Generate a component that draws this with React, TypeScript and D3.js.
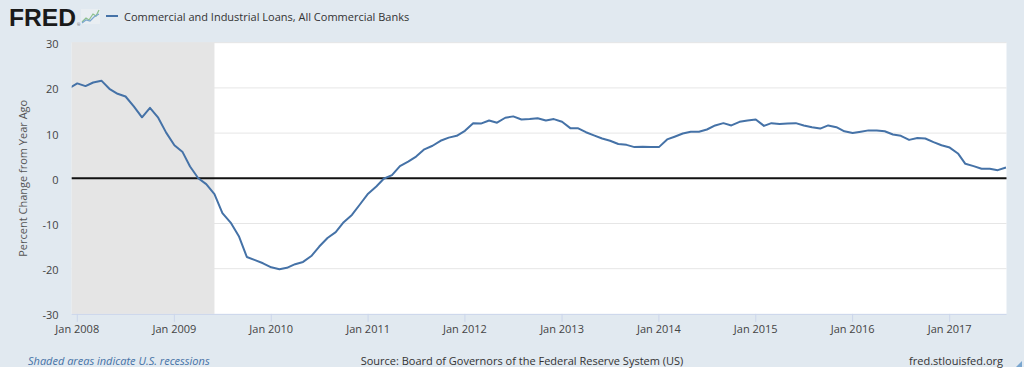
import React from "react";
import * as d3 from "d3";

// monthly series, Dec 2007 .. Aug 2017 (percent change from year ago)
const startMonth = Date.UTC(2007, 11, 1);
const values = [
  19.9,
  21.0, 20.4, 21.2, 21.6, 19.8, 18.7, 18.1, 15.9, 13.5, 15.6, 13.4, 10.1,
  7.3, 5.8, 2.6, 0.0, -1.3, -3.5, -7.7, -9.8, -12.8, -17.4, -18.1, -18.8,
  -19.7, -20.1, -19.8, -19.0, -18.5, -17.2, -15.1, -13.2, -11.9, -9.7, -8.1, -5.8,
  -3.4, -1.8, -0.1, 0.7, 2.7, 3.7, 4.8, 6.4, 7.2, 8.3, 9.0, 9.4,
  10.5, 12.2, 12.1, 12.8, 12.3, 13.4, 13.7, 13.0, 13.1, 13.3, 12.8, 13.1,
  12.5, 11.1, 11.1, 10.2, 9.5, 8.8, 8.3, 7.6, 7.4, 6.9, 7.0, 6.9,
  6.9, 8.6, 9.2, 9.9, 10.3, 10.3, 10.8, 11.7, 12.2, 11.7, 12.5, 12.8,
  13.0, 11.6, 12.2, 12.0, 12.1, 12.2, 11.7, 11.3, 11.0, 11.7, 11.3, 10.4,
  10.0, 10.3, 10.6, 10.6, 10.4, 9.7, 9.4, 8.5, 8.9, 8.8, 8.0, 7.3,
  6.8, 5.5, 3.2, 2.7, 2.1, 2.1, 1.8, 2.4,
];
const yTicks = [30, 20, 10, 0, -10, -20, -30];
const recessions = [[Date.UTC(2007, 11, 1), Date.UTC(2009, 5, 1)]];
const seriesName = "Commercial and Industrial Loans, All Commercial Banks";
const yTitle = "Percent Change from Year Ago";

const left = 71.7;
const right = 1006.5;
const top = 42.7;
const bottom = 313.9;

export default function App() {
  const data = values.map((v, i) => ({
    date: d3.utcMonth.offset(new Date(startMonth), i),
    value: v,
  }));

  const x = d3
    .scaleUtc()
    .domain([new Date(Date.UTC(2007, 11, 11)), new Date(Date.UTC(2017, 7, 3))])
    .range([left, right]);
  const y = d3.scaleLinear().domain([-30, 30]).range([bottom, top]);

  const xTicks = d3.utcYear.range(new Date(Date.UTC(2008, 0, 1)), new Date(Date.UTC(2017, 1, 1)));
  const fmt = d3.utcFormat("%b %Y");

  const line = d3
    .line<{ date: Date; value: number }>()
    .x((d) => x(d.date))
    .y((d) => y(d.value));

  const font = "'Open Sans', 'DejaVu Sans', sans-serif";

  return (
    <svg
      width={1024}
      height={371}
      style={{ position: "absolute", left: 0, top: 0 }}
      fontFamily={font}
    >
      <defs>
        <clipPath id="plot">
          <rect x={left} y={top} width={right - left} height={bottom - top} />
        </clipPath>
      </defs>
      <rect x={0} y={0} width={1024} height={371} fill="#ffffff" />
      <rect x={0} y={0} width={1024} height={367} fill="#e1e9f0" />
      <rect x={left} y={top} width={right - left} height={bottom - top} fill="#ffffff" />

      {/* grid */}
      {yTicks
        .filter((t) => t !== 0 && t !== -30)
        .map((t) => (
          <line key={t} x1={left} x2={right} y1={y(t)} y2={y(t)} stroke="#e6e6e6" strokeWidth={1} />
        ))}

      {/* recession bands */}
      <g clipPath="url(#plot)">
        {recessions.map(([a, b], i) => (
          <rect
            key={i}
            x={x(new Date(a))}
            y={top}
            width={x(new Date(b)) - x(new Date(a))}
            height={bottom - top}
            fill="#e5e5e5"
          />
        ))}
      </g>

      {/* zero line */}
      <line x1={left} x2={right} y1={y(0)} y2={y(0)} stroke="#111" strokeWidth={2} />

      {/* x axis */}
      <line x1={left} x2={right} y1={bottom + 0.5} y2={bottom + 0.5} stroke="#ccd6eb" strokeWidth={1} />
      {xTicks.map((t) => (
        <g key={+t}>
          <line x1={x(t)} x2={x(t)} y1={bottom} y2={bottom + 8} stroke="#ccd6eb" strokeWidth={1} />
          <text x={x(t)} y={328} textAnchor="middle" dominantBaseline="central" fontSize={11} fill="#444">
            {fmt(t)}
          </text>
        </g>
      ))}

      {/* series */}
      <g clipPath="url(#plot)">
        <path d={line(data) || ""} fill="none" stroke="#4572a7" strokeWidth={2} strokeLinejoin="round" />
      </g>

      {/* y axis */}
      {yTicks.map((t) => (
        <text key={t} x={58.5} y={y(t) + 1} textAnchor="end" dominantBaseline="central" fontSize={11} fill="#444">
          {t}
        </text>
      ))}
      <text
        transform={`translate(22,${(top + bottom) / 2}) rotate(-90)`}
        textAnchor="middle"
        dominantBaseline="central"
        fontSize={11}
        fill="#555"
      >
        {yTitle}
      </text>

      {/* logo + legend */}
      <text
        x={9}
        y={26}
        fontFamily="'Liberation Sans', Arial, sans-serif"
        fontWeight={900}
        fontSize={23}
        fill="#1a1a1a"
        textLength={67}
        lengthAdjust="spacingAndGlyphs"
      >
        FRED
      </text>
      <text x={77} y={26} fontSize={4} fill="#555">®</text>
      <g fill="none" strokeWidth={1.2}>
        <rect x={81} y={9} width={19} height={15} fill="#e9eef2" stroke="none" />
        <polyline points="82,22 86,18 89,20 93,14 96,16 99,10" stroke="#8cc08c" />
        <polyline points="82,23 86,20 90,21 94,17 99,14" stroke="#7aa6cf" />
      </g>
      <line x1={106} x2={118} y1={16} y2={16} stroke="#4572a7" strokeWidth={2} />
      <text x={124} y={16} dominantBaseline="central" fontSize={11} fill="#333">
        {seriesName}
      </text>

      {/* footer */}
      <text x={28} y={360} dominantBaseline="central" fontSize={11} fontStyle="italic" fill="#4572a7">
        Shaded areas indicate U.S. recessions
      </text>
      <text x={522} y={360} textAnchor="middle" dominantBaseline="central" fontSize={11} fill="#333">
        Source: Board of Governors of the Federal Reserve System (US)
      </text>
      <text x={1003} y={360} textAnchor="end" dominantBaseline="central" fontSize={11} fill="#333">
        fred.stlouisfed.org
      </text>
      <path d="M1022,361 L1022,367 L1016,367 Z" fill="#7aa6cf" />
    </svg>
  );
}
